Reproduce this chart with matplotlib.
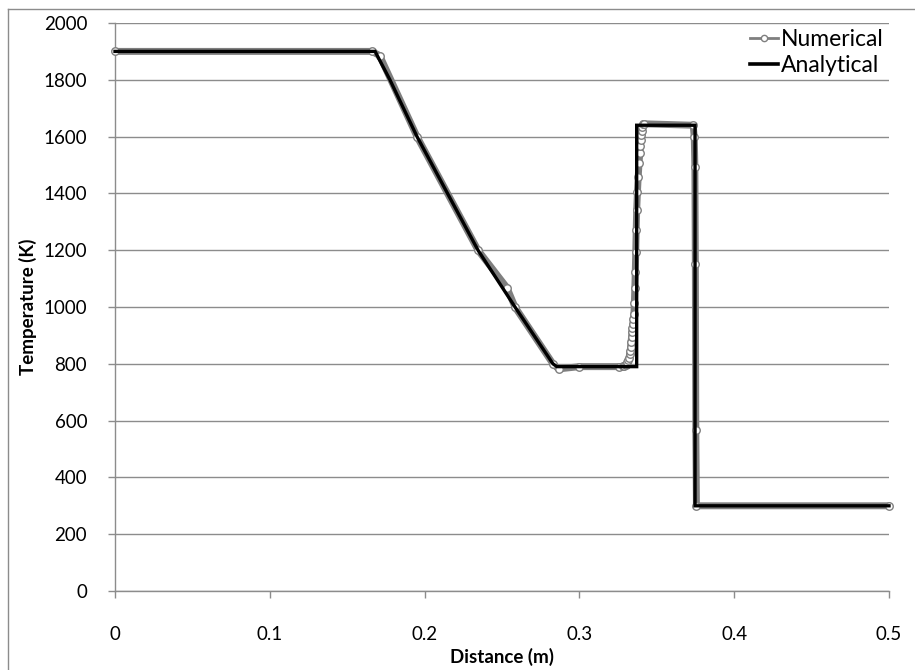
import numpy as np
import matplotlib
matplotlib.use("Agg")
import matplotlib.pyplot as plt
from matplotlib.lines import Line2D

# ---------------------------------------------------------------- data
# analytical solution (rarefaction, plateau, contact, plateau, shock, plateau)
ana_x = [0.0, 0.168, 0.1776, 0.1951, 0.2345, 0.2584, 0.2829, 0.2855,
         0.337, 0.337, 0.3747, 0.3747, 0.5]
ana_t = [1900, 1900, 1800, 1600, 1200, 1000, 800, 790,
         790, 1640, 1640, 300, 300]

# numerical solution (individual markers only where
# they stand out of the line: the contact, the shock and a few corners)
num_x = [0.0, 0.166, 0.171, 0.1951, 0.2345, 0.2532, 0.2584, 0.2829, 0.2865,
         0.300, 0.3255, 0.328, 0.329, 0.330, 0.3305, 0.3310, 0.3315,
         0.3320, 0.3325, 0.3328, 0.3331, 0.3334, 0.3337, 0.3340, 0.3343,
         0.3346, 0.3349, 0.3352, 0.3355, 0.3358, 0.3361, 0.3364, 0.3367,
         0.3370, 0.3375, 0.3380, 0.3385, 0.3390, 0.3393, 0.3396, 0.3399,
         0.3402, 0.3406, 0.3412, 0.3420, 0.3735, 0.3742, 0.3746, 0.3749,
         0.3752, 0.3756, 0.50]
num_t = [1900, 1900, 1885, 1600, 1200, 1068, 1000, 800, 782,
         790, 790, 791, 792, 796, 800, 806, 813,
         822, 833, 845, 860, 878, 895, 911, 925,
         940, 958, 974, 1013, 1066, 1124, 1195, 1271,
         1340, 1406, 1459, 1506, 1541, 1567, 1588, 1606,
         1621, 1635, 1645, 1645, 1640, 1599, 1493, 1151,
         568, 300, 300]

X_TICKS = [0, 0.1, 0.2, 0.3, 0.4, 0.5]
X_LABELS = ["0", "0.1", "0.2", "0.3", "0.4", "0.5"]
Y_TICKS = [0, 200, 400, 600, 800, 1000, 1200, 1400, 1600, 1800, 2000]

# ---------------------------------------------------------------- style
plt.rcParams["font.family"] = ["Lato", "DejaVu Sans"]
GRID = "#8c8c8c"
C_NUM = "#7f7f7f"

fig = plt.figure(figsize=(9.15, 6.7), dpi=100)
ax = fig.add_axes([115 / 915, 1 - 591 / 670, 774 / 915, 568 / 670])

ax.plot(num_x, num_t, color=C_NUM, lw=5.0, marker="o", ms=5.4,
        mfc="white", mec=C_NUM, mew=1.0, solid_capstyle="round",
        solid_joinstyle="round", clip_on=False, zorder=3, label="Numerical")
ax.plot(ana_x, ana_t, color="black", lw=2.4, solid_joinstyle="miter",
        clip_on=False, zorder=4, label="Analytical")

ax.set_xlim(0, 0.5)
ax.set_ylim(0, 2000)
ax.set_xticks(X_TICKS)
ax.set_xticklabels(X_LABELS)
ax.set_yticks(Y_TICKS)

for s in ("top", "right"):
    ax.spines[s].set_visible(False)
for s in ("left", "bottom"):
    ax.spines[s].set_color(GRID)
    ax.spines[s].set_linewidth(1.0)

ax.yaxis.grid(True, color=GRID, lw=1.0)
ax.set_axisbelow(True)
ax.tick_params(axis="both", colors=GRID, labelcolor="black", labelsize=13.5,
               length=5, width=1.0, direction="out")
ax.tick_params(axis="x", pad=20)
ax.tick_params(axis="y", pad=15)

ax.set_xlabel("Distance (m)", fontsize=13.5, fontweight="bold", labelpad=4)
ax.set_ylabel("Temperature (K)", fontsize=13.5, fontweight="bold", labelpad=5)

handles = [Line2D([], [], color=C_NUM, lw=2.0, marker="o", ms=4.5,
                  mfc="white", mec=C_NUM, mew=1.0),
           Line2D([], [], color="black", lw=2.6)]
ax.legend(handles, ["Numerical", "Analytical"], loc="upper right",
          bbox_to_anchor=(1.0, 1.0), frameon=True, facecolor="white",
          edgecolor="none", framealpha=1.0, fontsize=16.5, handlelength=1.25,
          handletextpad=0.1, labelspacing=0.22, borderpad=0.15,
          borderaxespad=0.1)

# outer chart border (top and left edges visible in the crop)
fig.add_artist(Line2D([8 / 915, 8 / 915], [0, 1 - 9 / 670],
                      transform=fig.transFigure, color=GRID, lw=1.0))
fig.add_artist(Line2D([8 / 915, 1], [1 - 9 / 670, 1 - 9 / 670],
                      transform=fig.transFigure, color=GRID, lw=1.0))

fig.savefig("out.png", dpi=100)
